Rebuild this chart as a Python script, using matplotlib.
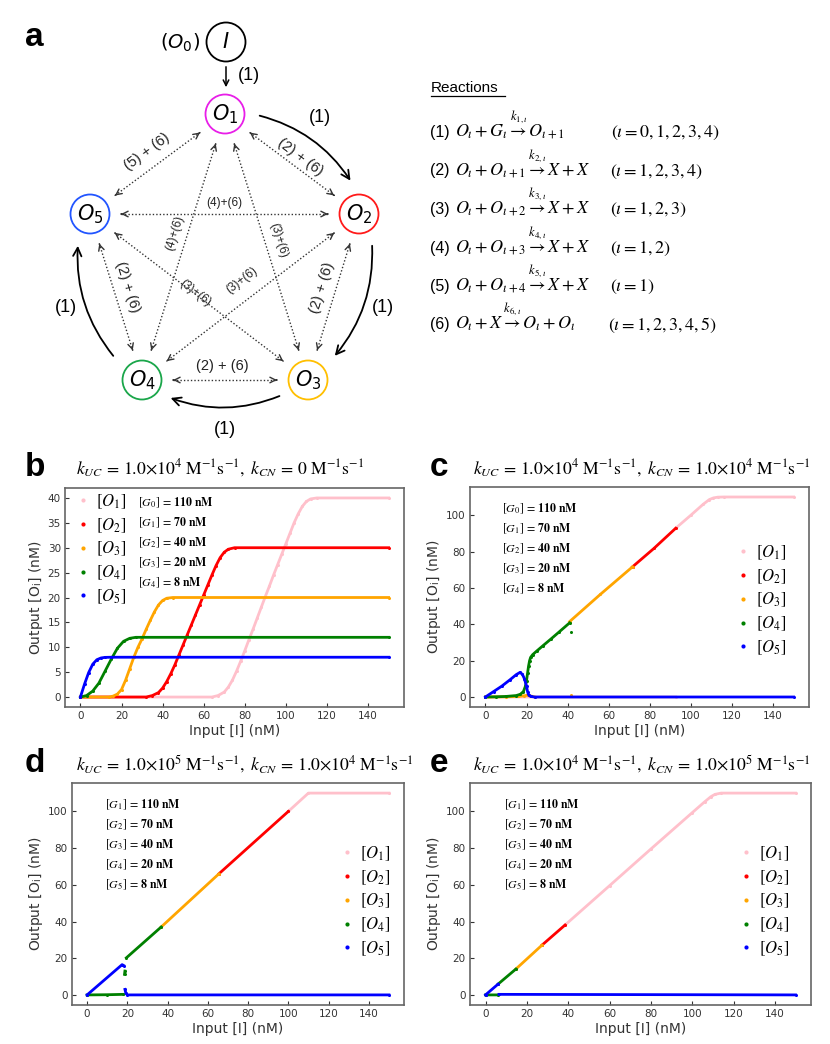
"""
Cascade of reactions: network diagram and input/output responses
"""
import numpy as np
import matplotlib.pyplot as plt
from matplotlib.patches import Circle, FancyArrowPatch
from matplotlib.lines import Line2D

plt.rcParams['mathtext.fontset'] = 'stix'
W, H = 830, 1044
nan = np.nan

colors = ['pink', 'red', 'orange', 'green', 'blue']
species = [r'$[O_1]$', r'$[O_2]$', r'$[O_3]$', r'$[O_4]$', r'$[O_5]$']
g_conc = [110, 70, 40, 20, 8]
input_ticks = [0, 20, 40, 60, 80, 100, 120, 140]

# panel b : k_UC = 1e4, k_CN = 0
b_x1 = [0, 64, 67, 70, 72, 74, 76, 78, 80, 82, 84, 86, 88, 90, 92, 94, 96, 98, 100,
        102, 104, 106, 108, 110, 112, 115, 150]
b_y1 = [0, 0, 0.3, 1.0, 2.0, 3.4, 5.2, 7.2, 9.3, 11.5, 13.6, 15.8, 18, 20.2, 22.3, 24.5,
        26.6, 28.7, 30.8, 32.9, 35, 36.8, 38.3, 39.3, 39.8, 40, 40]
b_x2 = [0, 32, 35, 38, 40, 42, 44, 46, 48, 50, 52, 54, 56, 58, 60, 62, 64, 66, 68, 70, 72, 75, 150]
b_y2 = [0, 0, 0.3, 0.9, 1.8, 3.1, 4.7, 6.5, 8.5, 10.5, 12.5, 14.5, 16.5, 18.5, 20.5, 22.5,
        24.5, 26.4, 28, 29.1, 29.7, 30, 30]
b_x3 = [0, 14, 16, 18, 20, 22, 24, 26, 28, 30, 32, 34, 36, 38, 40, 42, 45, 150]
b_y3 = [0, 0, 0.2, 0.6, 1.5, 3.4, 5.7, 8, 10, 11.7, 13.6, 15.4, 17.1, 18.5, 19.4, 19.85, 20, 20]
b_x4 = [0, 3, 6, 9, 12, 15, 18, 21, 24, 27, 150]
b_y4 = [0, 0.3, 1.2, 2.8, 5.2, 7.6, 9.8, 11.2, 11.8, 12, 12]
b_x5 = [0, 2, 4, 6, 8, 10, 12, 15, 150]
b_y5 = [0, 2.6, 4.9, 6.6, 7.5, 7.85, 7.97, 8, 8]

# panel c : k_UC = 1e4, k_CN = 1e4
c_x1 = [0, 92.6, nan, 92.6, 100, 106, 109, 111, 113, 116, 150]
c_y1 = [0, 0, nan, 92.8, 100, 106, 108.6, 109.5, 109.9, 110, 110]
c_x2 = [71.6, 82, 92.6]
c_y2 = [71.6, 81.7, 92.8]
c_x3 = [0, 10, 16, 19, 20.5, 22, 24, nan, 41, 56, 71.6, nan, 41.5]
c_y3 = [0, 0.1, 0.3, 0.7, 1.0, 0.6, 0, nan, 41.5, 56.5, 71.6, nan, 1.0]
c_x4 = [0, 5, 10, 15, 17, 18.5, 19.5, 20, 20.5, 21, 21.5, 22, 23, 25, 28, 32, 36, 41, nan, 41.5]
c_y4 = [0, 0.1, 0.3, 0.8, 1.5, 3, 6, 9, 13, 17, 20, 21.8, 23.3, 25.3, 28.2, 32, 35.9, 40.8, nan, 36]
c_x5 = [0, 4, 8, 12, 15, 16.8, 18, 19, 20, 20.5, 21, 22, 24, 150]
c_y5 = [0, 3, 6, 9.5, 12.3, 13.5, 12.5, 10, 6, 3, 1.2, 0.3, 0, 0]

# panel d : k_UC = 1e5, k_CN = 1e4
d_x1 = [100, 110, 150]
d_y1 = [100, 110, 110]
d_x2 = [65.5, 100]
d_y2 = [66, 100]
d_x3 = [36.8, 65.5]
d_y3 = [37, 66]
d_x4 = [0, 10, 18, nan, 18.6, 18.8, nan, 19.5, 36.8]
d_y4 = [0, 0.1, 0.3, nan, 11.2, 13, nan, 20.2, 37]
d_x5 = [0, 17.4, 18.2, nan, 18.8, 19.3, 20, 150]
d_y5 = [0, 16.5, 16, nan, 3, 0.8, 0, 0]

# panel e : k_UC = 1e4, k_CN = 1e5
e_x1 = [38.5, 60, 80, 100, 106, 109, 111, 114, 150]
e_y1 = [38.1, 59.5, 79.5, 99.3, 105.2, 108, 109.3, 110, 110]
e_x2 = [27.3, 38.5]
e_y2 = [27.1, 38.1]
e_x3 = [14.7, 27.3]
e_y3 = [14.1, 27.1]
e_x4 = [0, 6.1, nan, 6.1, 14.7]
e_y4 = [0, 0, nan, 5.9, 14.1]
e_x5 = [0, 6.1, nan, 6.5, 150]
e_y5 = [0, 5.9, nan, 0.3, 0]

# diagram nodes (pixel layout)
nodes = {'I': (226, 42), 'O1': (225, 114), 'O2': (359, 214),
         'O3': (308, 380), 'O4': (142, 380), 'O5': (90, 214)}
node_colors = {'I': 'black', 'O1': '#e81ee8', 'O2': '#ff1a1a', 'O3': '#ffbf00',
               'O4': '#1aa64a', 'O5': '#2255ff'}
node_labels = {'I': r'$I$', 'O1': r'$O_1$', 'O2': r'$O_2$', 'O3': r'$O_3$',
               'O4': r'$O_4$', 'O5': r'$O_5$'}
pairs = [('O1', 'O2', '(2) + (6)', (300, 157), 10.5),
         ('O1', 'O5', '(5) + (6)', (147, 152), 10.5),
         ('O5', 'O2', '(4)+(6)', (224, 203), 8.5),
         ('O1', 'O4', '(4)+(6)', (175, 233), 8.5),
         ('O1', 'O3', '(3)+(6)', (278, 240), 8.5),
         ('O5', 'O4', '(2) + (6)', (128, 287), 10.5),
         ('O2', 'O3', '(2) + (6)', (322, 288), 10.5),
         ('O5', 'O3', '(3)+(6)', (195, 293), 8.5),
         ('O2', 'O4', '(3)+(6)', (242, 280), 8.5),
         ('O4', 'O3', '(2) + (6)', (222, 366), 10.5)]
arcs = [((257, 115), (352, 183)), ((372, 243), (333, 358)),
        ((282, 395), (168, 397)), ((115, 358), (78, 243))]
arc_labels = [(320, 117), (383, 308), (225, 430), (66, 308)]

reaction_ids = ['(1)', '(2)', '(3)', '(4)', '(5)', '(6)']
reactions = [r'$O_\imath + G_\imath \overset{k_{1,\imath}}{\rightarrow} O_{\imath+1}$',
             r'$O_\imath + O_{\imath+1} \overset{k_{2,\imath}}{\rightarrow} X + X$',
             r'$O_\imath + O_{\imath+2} \overset{k_{3,\imath}}{\rightarrow} X + X$',
             r'$O_\imath + O_{\imath+3} \overset{k_{4,\imath}}{\rightarrow} X + X$',
             r'$O_\imath + O_{\imath+4} \overset{k_{5,\imath}}{\rightarrow} X + X$',
             r'$O_\imath + X \overset{k_{6,\imath}}{\rightarrow} O_\imath + O_\imath$']
conditions = [r'$(\imath = 0, 1, 2, 3, 4)$', r'$(\imath = 1, 2, 3, 4)$', r'$(\imath = 1, 2, 3)$',
              r'$(\imath = 1, 2)$', r'$(\imath = 1)$', r'$(\imath = 1, 2, 3, 4, 5)$']
cond_x = [611, 610, 610, 610, 610, 608]

titles = [r'$k_{UC}\,=\,1.0{\times}10^4\ \mathrm{M^{-1}s^{-1}},\ k_{CN}\,=\,0\ \mathrm{M^{-1}s^{-1}}$',
          r'$k_{UC}\,=\,1.0{\times}10^4\ \mathrm{M^{-1}s^{-1}},\ k_{CN}\,=\,1.0{\times}10^4\ \mathrm{M^{-1}s^{-1}}$',
          r'$k_{UC}\,=\,1.0{\times}10^5\ \mathrm{M^{-1}s^{-1}},\ k_{CN}\,=\,1.0{\times}10^4\ \mathrm{M^{-1}s^{-1}}$',
          r'$k_{UC}\,=\,1.0{\times}10^4\ \mathrm{M^{-1}s^{-1}},\ k_{CN}\,=\,1.0{\times}10^5\ \mathrm{M^{-1}s^{-1}}$']


def fx(x):
    return x / W


def fy(y):
    return 1 - y / H


def box(l, t, r, b):
    return [l / W, 1 - b / H, (r - l) / W, (b - t) / H]


fig = plt.figure(figsize=(W / 100, H / 100), dpi=100)

# ---------------- panel a : network diagram ----------------
ax0 = fig.add_axes([0, 1 - 445 / H, 1, 445 / H])
ax0.set_xlim(0, W)
ax0.set_ylim(445, 0)
ax0.axis('off')
sans = 'Liberation Sans'

for key, (x, y) in nodes.items():
    ax0.add_patch(Circle((x, y), 19.5, fill=False, ec=node_colors[key], lw=1.3))
    ax0.text(x, y, node_labels[key], ha='center', va='center', fontsize=15,
             math_fontfamily='dejavusans')
ax0.text(180, 43, r'$(O_0)$', ha='center', va='center', fontsize=14, math_fontfamily='dejavusans')
ax0.add_patch(FancyArrowPatch((226, 64), (226, 90), arrowstyle='->', mutation_scale=10,
                              lw=1.1, color='black'))
ax0.text(249, 76, '(1)', ha='center', va='center', fontsize=13, family=sans)

for (pa, pb), (lx, ly) in zip(arcs, arc_labels):
    ax0.add_patch(FancyArrowPatch(pa, pb, connectionstyle='arc3,rad=-0.2', arrowstyle='->',
                                  mutation_scale=15, lw=1.3, color='black'))
    ax0.text(lx, ly, '(1)', ha='center', va='center', fontsize=13, family=sans)

for na, nb, lab, (lx, ly), fs in pairs:
    ca, cb = np.array(nodes[na], float), np.array(nodes[nb], float)
    u = (cb - ca) / np.hypot(*(cb - ca))
    pa, pb = ca + 31 * u, cb - 31 * u
    ax0.plot([pa[0], pb[0]], [pa[1], pb[1]], ls=(0, (1, 1.5)), lw=1.0, color='#333333')
    for end, d in ((pa, u), (pb, -u)):
        ax0.add_patch(FancyArrowPatch(end + 3 * d, end, arrowstyle='->', mutation_scale=10,
                                      lw=1.0, color='#333333'))
    ang = np.degrees(np.arctan2(-(pb[1] - pa[1]), pb[0] - pa[0]))
    if ang > 90:
        ang -= 180
    elif ang <= -90:
        ang += 180
    ax0.text(lx, ly, lab, ha='center', va='center', fontsize=fs, family=sans,
             rotation=ang, rotation_mode='anchor', color='#222222')

# reactions list
ax0.text(431, 88, 'Reactions', ha='left', va='center', fontsize=11, family=sans)
ax0.plot([431, 505], [96, 96], color='black', lw=0.9)
for i, (rid, r, c, cx) in enumerate(zip(reaction_ids, reactions, conditions, cond_x)):
    y = 137 + 38.5 * i
    ax0.text(430, y, rid, ha='left', va='baseline', fontsize=11.5, family=sans)
    ax0.text(455, y, r, ha='left', va='baseline', fontsize=13)
    ax0.text(cx, y, c, ha='left', va='baseline', fontsize=13)

fig.text(fx(25), fy(38), 'a', fontsize=24, fontweight='bold', family=sans, va='center')

# ---------------- response panels ----------------
panels = [
    ('b', box(65, 488, 404, 707), [b_x1, b_x2, b_x3, b_x4, b_x5], [b_y1, b_y2, b_y3, b_y4, b_y5],
     [0, 5, 10, 15, 20, 25, 30, 35, 40], 0),
    ('c', box(470, 487, 809, 707), [c_x1, c_x2, c_x3, c_x4, c_x5], [c_y1, c_y2, c_y3, c_y4, c_y5],
     [0, 20, 40, 60, 80, 100], 0),
    ('d', box(72, 783, 404, 1005), [d_x1, d_x2, d_x3, d_x4, d_x5], [d_y1, d_y2, d_y3, d_y4, d_y5],
     [0, 20, 40, 60, 80, 100], 1),
    ('e', box(470, 783, 811, 1005), [e_x1, e_x2, e_x3, e_x4, e_x5], [e_y1, e_y2, e_y3, e_y4, e_y5],
     [0, 20, 40, 60, 80, 100], 1),
]
letter_pos = {'b': (25, 467), 'c': (430, 468), 'd': (25, 764), 'e': (430, 764)}
title_pos = {'b': (76, 468), 'c': (473, 468), 'd': (76, 764), 'e': (473, 764)}
gtext_pos = {'b': (138, 503), 'c': (502, 509), 'd': (105, 805), 'e': (504, 805)}
legend_pos = {'b': (75, 549), 'c': (735, 600), 'd': (339, 901), 'e': (738, 901)}

for (name, rect, xs, ys, yticks, g_offset), title in zip(panels, titles):
    ax = fig.add_axes(rect)
    for x, y, col in zip(xs, ys, colors):
        ax.plot(x, y, '-o', color=col, lw=2.0, ms=2.2, mew=0)
    ax.set_xticks(input_ticks)
    ax.set_yticks(yticks)
    ax.tick_params(direction='in', length=3, labelsize=7.5, colors='#333333', pad=3)
    for s in ax.spines.values():
        s.set_color('#666666')
        s.set_linewidth(1.2)
    ax.set_xlabel('Input [I] (nM)', fontsize=10, color='#333333', labelpad=2)
    ax.set_ylabel(r'Output [O$_\mathregular{i}$] (nM)', fontsize=10, color='#333333', labelpad=2)

    handles = [Line2D([], [], ls='', marker='o', ms=3, mew=0, color=col) for col in colors]
    lx, ly = legend_pos[name]
    ax.legend(handles, species, loc='center left', bbox_to_anchor=(fx(lx), fy(ly)),
              bbox_transform=fig.transFigure, frameon=False, fontsize=12,
              handletextpad=0.25, labelspacing=0.3, handlelength=1.0, borderpad=0,
              borderaxespad=0)

    gx, gy = gtext_pos[name]
    for k, g in enumerate(g_conc):
        fig.text(fx(gx), fy(gy + 20 * k),
                 r'$[G_{%d}]\,=\,\mathbf{%d\ nM}$' % (k + g_offset, g),
                 fontsize=8.6, va='center', ha='left')

    tx, ty = title_pos[name]
    fig.text(fx(tx), fy(ty), title, fontsize=12.7, va='center', ha='left')
    px, py = letter_pos[name]
    fig.text(fx(px), fy(py), name, fontsize=24, fontweight='bold', family=sans, va='center')

fig.savefig('out.png', dpi=100)
